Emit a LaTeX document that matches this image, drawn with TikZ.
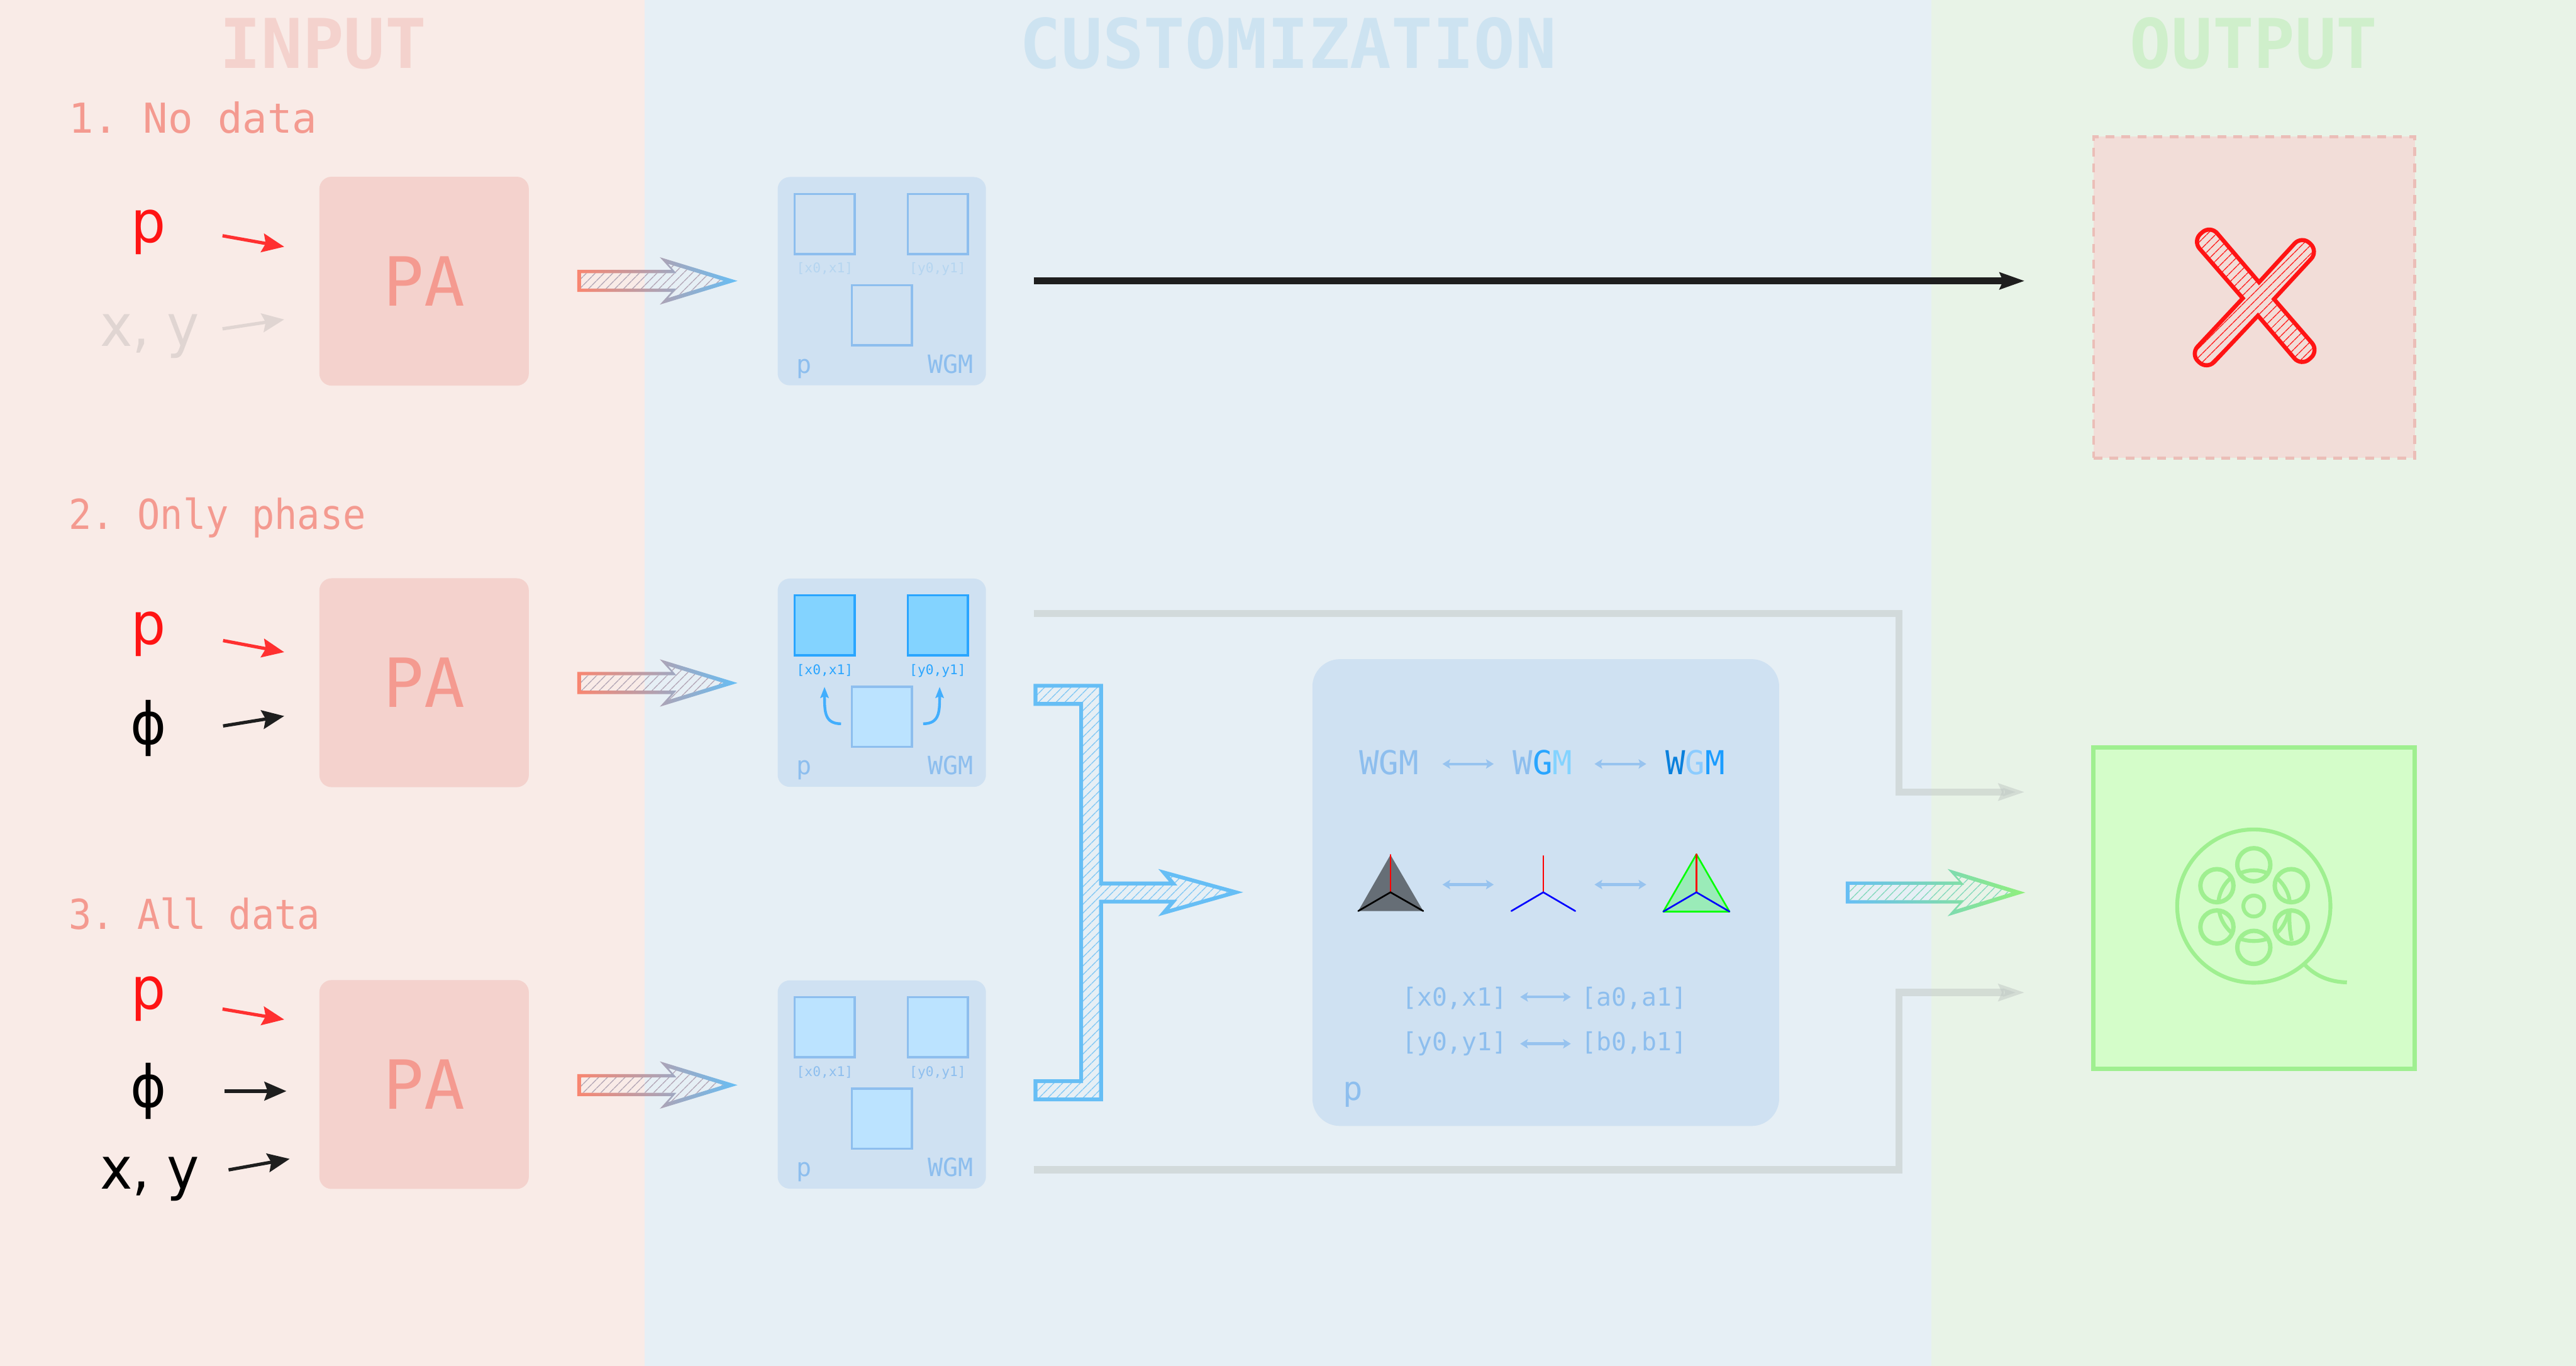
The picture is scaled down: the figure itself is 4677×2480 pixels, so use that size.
\documentclass[tikz,border=0pt]{standalone}
\usepackage{fontspec}
\frenchspacing
\setmainfont{DejaVu Sans}
\newfontfamily\codefont{DejaVu Sans Mono}
\newfontfamily\narrowcode[FakeStretch=.92]{DejaVu Sans Mono}
\newfontfamily\signalfont[FakeStretch=.94]{DejaVu Sans}
\usetikzlibrary{arrows.meta,patterns.meta,positioning}
\definecolor{inputbg}{RGB}{249,235,231}
\definecolor{custombg}{RGB}{230,239,245}
\definecolor{outputbg}{RGB}{232,243,231}
\definecolor{pafill}{RGB}{244,210,205}
\definecolor{patext}{RGB}{244,154,144}
\definecolor{boxfill}{RGB}{207,225,242}
\definecolor{softblue}{RGB}{141,190,238}
\definecolor{lightsq}{RGB}{187,227,255}
\definecolor{brightsq}{RGB}{131,211,255}
\definecolor{brightline}{RGB}{41,165,255}
\definecolor{fadeblue}{RGB}{181,213,240}
\definecolor{titlecust}{RGB}{205,227,241}
\definecolor{titleout}{RGB}{207,239,203}
\definecolor{hotred}{RGB}{255,20,20}
\definecolor{arrowred}{RGB}{255,48,48}
\definecolor{ghost}{RGB}{224,213,210}
\definecolor{nearblack}{RGB}{30,30,30}
\definecolor{salmon}{RGB}{249,134,112}
\definecolor{skyblue}{RGB}{102,190,245}
\definecolor{mintgreen}{RGB}{144,240,124}
\definecolor{reelline}{RGB}{159,239,144}
\definecolor{reelfill}{RGB}{212,253,201}
\definecolor{failfill}{RGB}{242,221,216}
\definecolor{faildash}{RGB}{235,190,184}
\definecolor{greyline}{RGB}{191,199,195}
\tikzset{
  txt/.style={inner sep=0pt,outer sep=0pt,anchor=base},
  bandtitle/.style={txt,font=\codefont\bfseries\fontsize{35.4}{40}\selectfont},
  rowlabel/.style={txt,anchor=base west,text=patext,font=\codefont\fontsize{21.3}{25}\selectfont},
  rowlabelb/.style={rowlabel,font=\narrowcode\fontsize{21.3}{25}\selectfont},
  signal/.style={txt,font=\signalfont\fontsize{30}{36}\selectfont},
  pabox/.style={fill=pafill,rounded corners=.22cm,minimum width=3.8cm,minimum height=3.79cm,
    inner sep=0pt,text=patext,font=\codefont\fontsize{35}{40}\selectfont},
  wgmbox/.style={fill=boxfill,rounded corners=.22cm,minimum width=3.78cm,minimum height=3.78cm,inner sep=0pt},
  sqbox/.style={draw=softblue,line width=.04cm,minimum size=1.09cm,inner sep=0pt},
  tinytxt/.style={txt,font=\codefont\fontsize{6.9}{8}\selectfont},
  wgmtxt/.style={txt,text=softblue,font=\codefont\fontsize{13}{15}\selectfont},
  bigwgm/.style={txt,text=softblue,font=\codefont\fontsize{17}{20}\selectfont},
  rangetxt/.style={txt,text=softblue,font=\codefont\fontsize{12.9}{15}\selectfont},
  sigarrow/.style={-{Stealth[length=.4cm,width=.34cm,inset=.06cm]},line width=.06cm},
  blackarrow/.style={-{Stealth[length=.45cm,width=.3cm,inset=.06cm]},nearblack,line width=.12cm},
  greyarrow/.style={-{Stealth[length=.47cm,width=.3cm,inset=.06cm]},greyline,opacity=.5,line width=.13cm},
  twoway/.style={{Stealth[length=.14cm,width=.17cm,inset=.03cm]}-{Stealth[length=.14cm,width=.17cm,inset=.03cm]},
    softblue!85!boxfill,line width=.05cm},
  curlarrow/.style={-{Stealth[length=.2cm,width=.15cm,inset=.03cm]},brightline!85!boxfill,line width=.05cm},
  hatchfill/.style={pattern={Lines[angle=45,distance=3.35pt,line width=.5pt]},pattern color=#1},
  reel/.style={draw=reelline,line width=.07cm},
  meshline/.style={line width=.03cm,line cap=round},
}
% block arrow: start x, notch x, centre y, left colour, right colour, hatch colour
\newcommand{\hatcharrow}[6]{
  \fill[hatchfill=#6] ({#1+7},{#3-14}) -- ({#2+9},{#3-14}) -- ({#2-6},{#3-31}) -- ({#2+95},#3)
    -- ({#2-6},{#3+31}) -- ({#2+9},{#3+14}) -- ({#1+7},{#3+14}) -- cycle;
  \shade[even odd rule,left color=#4,right color=#5]
    (#1,{#3-20}) -- (#2,{#3-20}) -- ({#2-21},{#3-43}) -- ({#2+120},#3)
    -- ({#2-21},{#3+43}) -- (#2,{#3+20}) -- (#1,{#3+20}) -- cycle
    ({#1+7},{#3-14}) -- ({#2+9},{#3-14}) -- ({#2-6},{#3-31}) -- ({#2+95},#3)
    -- ({#2-6},{#3+31}) -- ({#2+9},{#3+14}) -- ({#1+7},{#3+14}) -- cycle;
}
% name, centre y, fill and line of the two top squares, of the lower one, label colour
\newcommand{\wgmpanel}[7]{
  \node[wgmbox] (#1) at (1601,#2) {};
  \node[sqbox,fill=#3,draw=#4] (#1l) at (1497.5,{#2-104}) {};
  \node[sqbox,fill=#3,draw=#4] (#1r) at (1702.5,{#2-104}) {};
  \node[sqbox,fill=#5,draw=#6] (#1c) at (1601,{#2+62}) {};
  \node[tinytxt,text=#7] (#1lt) at (1497.5,{#2-15}) {[x0,x1]};
  \node[tinytxt,text=#7] (#1rt) at (1702.5,{#2-15}) {[y0,y1]};
  \node[wgmtxt] (#1p) at (1460,{#2+167}) {p};
  \node[wgmtxt,anchor=base east] (#1w) at (1767,{#2+167}) {WGM};
}
\begin{document}
\begin{tikzpicture}[x=.01cm,y=-.01cm]
  \useasboundingbox (0,0) rectangle (4677,2480);
  \fill[inputbg] (0,0) rectangle (1170,2480);
  \fill[custombg] (1170,0) rectangle (3507,2480);
  \fill[outputbg] (3507,0) rectangle (4677,2480);
  \node[bandtitle,text=pafill] (tin) at (587,124) {INPUT};
  \node[bandtitle,text=titlecust] (tcu) at (2339,124) {CUSTOMIZATION};
  \node[bandtitle,text=titleout] (tou) at (4092,124) {OUTPUT};

  % input column
  \node[rowlabel] (lab1) at (125,241) {1. No data};
  \node[rowlabelb] (lab2) at (125,961) {2. Only phase};
  \node[rowlabelb] (lab3) at (125,1687) {3. All data};
  \node[pabox] (pa1) at (770,510.5) {PA};
  \node[pabox] (pa2) at (770,1239.5) {PA};
  \node[pabox] (pa3) at (770,1969) {PA};
  \node[signal,text=hotred] (p1) at (270,440) {p};
  \node[signal,text=ghost] (xy1) at (272,628) {x, y};
  \node[signal,text=hotred] (p2) at (270,1170) {p};
  \node[signal] (ph2) at (270,1351) {ϕ};
  \node[signal,text=hotred] (p3) at (270,1832) {p};
  \node[signal] (ph3) at (270,2010) {ϕ};
  \node[signal] (xy3) at (272,2159) {x, y};
  \foreach \name/\xa/\ya/\xb/\yb in {a1/404/428/516/448,b1/404/597/516/580,a2/405/1163/516/1184,
      b2/405/1318/516/1300,a3/404/1832/516/1851,b3/408/1981/520/1981,c3/415/2124/526/2104}{
    \coordinate (\name s) at (\xa,\ya);
    \coordinate (\name e) at (\xb,\yb);
  }
  \draw[sigarrow,arrowred] (a1s) -- (a1e);
  \draw[sigarrow,ghost] (b1s) -- (b1e);
  \draw[sigarrow,arrowred] (a2s) -- (a2e);
  \draw[sigarrow,nearblack] (b2s) -- (b2e);
  \draw[sigarrow,arrowred] (a3s) -- (a3e);
  \draw[sigarrow,nearblack] (b3s) -- (b3e);
  \draw[sigarrow,nearblack] (c3s) -- (c3e);
  \hatcharrow{1048}{1219}{510}{salmon}{skyblue}{skyblue!50!salmon}
  \hatcharrow{1048}{1219}{1240}{salmon}{skyblue}{skyblue!50!salmon}
  \hatcharrow{1048}{1219}{1970}{salmon}{skyblue}{skyblue!50!salmon}

  % customization column
  \wgmpanel{wg1}{510.5}{boxfill}{softblue}{boxfill}{softblue}{fadeblue}
  \wgmpanel{wg2}{1239.5}{brightsq}{brightline}{lightsq}{softblue}{brightline}
  \wgmpanel{wg3}{1969}{lightsq}{softblue}{lightsq}{softblue}{softblue}
  \coordinate (cl) at (1527,1314);
  \coordinate (tl) at (1497,1247);
  \coordinate (cr) at (1676,1314);
  \coordinate (tr) at (1706,1247);
  \draw[curlarrow] (cl) .. controls (1497,1314) and (1497,1292) .. (tl);
  \draw[curlarrow] (cr) .. controls (1706,1314) and (1706,1292) .. (tr);

  \filldraw[hatchfill=skyblue!80!boxfill,draw=skyblue,line width=.07cm,miter limit=4]
    (1880,1245) -- (1999,1245) -- (1999,1604) -- (2130,1604) -- (2113,1584) -- (2244,1620)
    -- (2113,1657) -- (2130,1637) -- (1999,1637) -- (1999,1996) -- (1880,1996) -- (1880,1963)
    -- (1963,1963) -- (1963,1278) -- (1880,1278) -- cycle;

  \node[wgmbox,minimum width=8.47cm,minimum height=8.47cm,rounded corners=.5cm] (core) at (2806.5,1620.5) {};
  \node[bigwgm] (w1) at (2522,1406) {WGM};
  \node[bigwgm] (w2) at (2801,1406) {\textcolor{softblue}{W}\textcolor{brightline}{G}\textcolor{brightsq}{M}};
  \node[bigwgm] (w3) at (3078,1406) {\textcolor[RGB]{10,128,220}{W}\textcolor[RGB]{140,204,255}{G}\textcolor[RGB]{28,157,255}{M}};
  \coordinate (w1a) at (2619,1387);
  \coordinate (w2a) at (2712,1387);
  \coordinate (w2b) at (2895,1387);
  \coordinate (w3a) at (2989,1387);
  \coordinate (m1a) at (2619,1606);
  \coordinate (m2a) at (2712,1606);
  \coordinate (m2b) at (2895,1606);
  \coordinate (m3a) at (2989,1606);
  \draw[twoway] (w1a) -- (w2a);
  \draw[twoway] (w2b) -- (w3a);
  \draw[twoway] (m1a) -- (m2a);
  \draw[twoway] (m2b) -- (m3a);

  % the three meshes
  \fill[fill={rgb,255:red,102;green,110;blue,118}] (2524.5,1552) -- (2466,1654) -- (2584,1654) -- cycle;
  \draw[meshline,red] (2524.5,1552) -- (2524.5,1620);
  \draw[meshline,black] (2466,1654) -- (2524.5,1620) -- (2584,1654);
  \draw[meshline,red] (2802,1554) -- (2802,1620);
  \draw[meshline,blue] (2744,1654) -- (2802,1620) -- (2860,1654);
  \filldraw[meshline,fill={rgb,255:red,154;green,235;blue,184},draw=green,line join=round]
    (3080,1551) -- (3020,1655) -- (3140,1655) -- cycle;
  \draw[meshline,red] (3080,1551) -- (3080,1620);
  \draw[meshline,blue] (3020,1655) -- (3080,1620) -- (3140,1655);

  \node[rangetxt] (rx) at (2641,1826) {[x0,x1]};
  \node[rangetxt] (ra) at (2967,1826) {[a0,a1]};
  \node[rangetxt] (ry) at (2641,1907) {[y0,y1]};
  \node[rangetxt] (rb) at (2967,1907) {[b0,b1]};
  \coordinate (rxa) at (2760,1810);
  \coordinate (raa) at (2852,1810);
  \coordinate (rya) at (2760,1895);
  \coordinate (rba) at (2852,1895);
  \draw[twoway] (rxa) -- (raa);
  \draw[twoway] (rya) -- (rba);
  \node[txt,text=softblue,font=\codefont\fontsize{17}{20}\selectfont] (corep) at (2456,1998) {p};

  % connectors to the output column
  \coordinate (bl1) at (1877,510);
  \coordinate (fail) at (3676,510);
  \draw[blackarrow] (bl1) -- (fail);
  \coordinate (gr1) at (1877,1114);
  \coordinate (gr1e) at (3676,1438);
  \coordinate (gr2) at (1877,2124);
  \coordinate (gr2e) at (3676,1802);
  \draw[greyarrow] (gr1) -| (3448,1438) -- (gr1e);
  \draw[greyarrow] (gr2) -| (3448,1802) -- (gr2e);
  \hatcharrow{3351}{3557}{1620.5}{skyblue}{mintgreen}{skyblue!50!mintgreen}

  % output column
  \node[fill=failfill,draw=faildash,line width=.05cm,dash pattern=on .16cm off .13cm,
    minimum width=5.83cm,minimum height=5.83cm,inner sep=0pt] (nope) at (4092.5,540) {};
  \filldraw[hatchfill=hotred,draw=hotred,line width=.075cm,line join=miter]
    (4101.5,512.5) [rounded corners=.19cm] -- (4179,428) -- (4209,456) [sharp corners] -- (4128.6,543)
    [rounded corners=.19cm] -- (4210,637) -- (4178,665) [sharp corners] -- (4099.5,573)
    [rounded corners=.19cm] -- (4007,671) -- (3977,643) [sharp corners] -- (4072,541.5)
    [rounded corners=.19cm] -- (3981,437) -- (4013,409) [sharp corners] -- cycle;

  \node[fill=reelfill,draw=reelline,line width=.085cm,minimum width=5.83cm,minimum height=5.83cm,
    inner sep=0pt] (film) at (4092.5,1649) {};
  \draw[reel] (4092,1645) circle[radius=1.39cm];
  \draw[reel] (4092,1645) circle[radius=.19cm];
  \foreach \hx/\hy in {4092/1570,4160/1608,4160/1683,4092/1720,4025/1683,4025/1608}
    \draw[reel,line width=.08cm] (\hx,\hy) circle[radius=.3cm];
  \draw[reel] (4066,1586) .. controls (4083,1578) and (4101,1578) .. (4118,1586);
  \draw[reel] (4135,1595) .. controls (4147,1606) and (4155,1620) .. (4157,1635);
  \draw[reel] (4049,1595) .. controls (4037,1606) and (4030,1620) .. (4028,1635);
  \draw[reel] (4155,1653) .. controls (4153,1668) and (4146,1682) .. (4135,1693);
  \draw[reel] (4157,1653) .. controls (4156,1672) and (4157,1690) .. (4161,1708);
  \draw[reel] (4029,1653) .. controls (4031,1668) and (4039,1682) .. (4051,1693);
  \draw[reel] (4066,1704) .. controls (4083,1710) and (4101,1710) .. (4118,1704);
  \draw[reel] (4185,1752) .. controls (4205,1773) and (4232,1783) .. (4261,1783.5);
\end{tikzpicture}
\end{document}
